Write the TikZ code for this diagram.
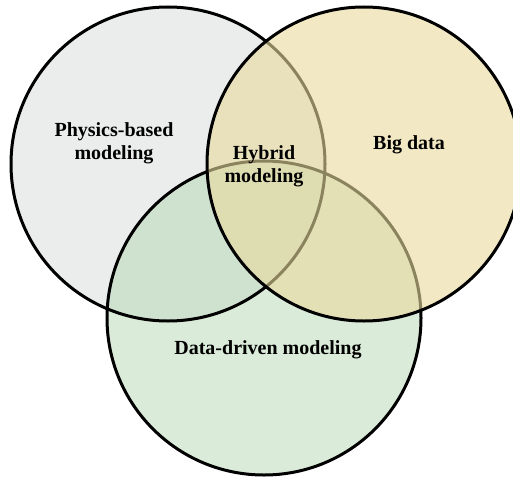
\documentclass[tikz,border=0pt]{standalone}
\usepackage{fontspec}
\setmainfont{Liberation Serif}
\definecolor{physfill}{RGB}{235,237,236}
\definecolor{datafill}{RGB}{181,215,179}
\definecolor{bigfill}{RGB}{233,217,157}
\begin{document}
\begin{tikzpicture}[x=1pt,y=-1pt,
  ring/.style={draw=black,line width=3pt},
  label/.style={font=\fontsize{20}{23}\selectfont\bfseries,align=center,text=black,inner sep=0pt}]
\useasboundingbox (0,0) rectangle (513,476);
% set centres and common radius
\coordinate (cP) at (168,164);
\coordinate (cB) at (364,164);
\coordinate (cD) at (264,318);
\def\R{157}
% physics-based and data-driven sets
\fill[physfill] (cP) circle[radius=\R];
\fill[datafill,fill opacity=0.5] (cD) circle[radius=\R];
\draw[ring] (cP) circle[radius=\R];
\draw[ring] (cD) circle[radius=\R];
% big data set, laid over the other two
\fill[bigfill,fill opacity=0.6] (cB) circle[radius=\R];
\draw[ring] (cB) circle[radius=\R];
% labels
\node[label] (phys) at (114,143) {Physics-based\\modeling};
\node[label] (hyb) at (264,166) {Hybrid\\modeling};
\node[label] (big) at (409,145) {Big data};
\node[label] (data) at (268,350) {Data-driven modeling};
\end{tikzpicture}
\end{document}
